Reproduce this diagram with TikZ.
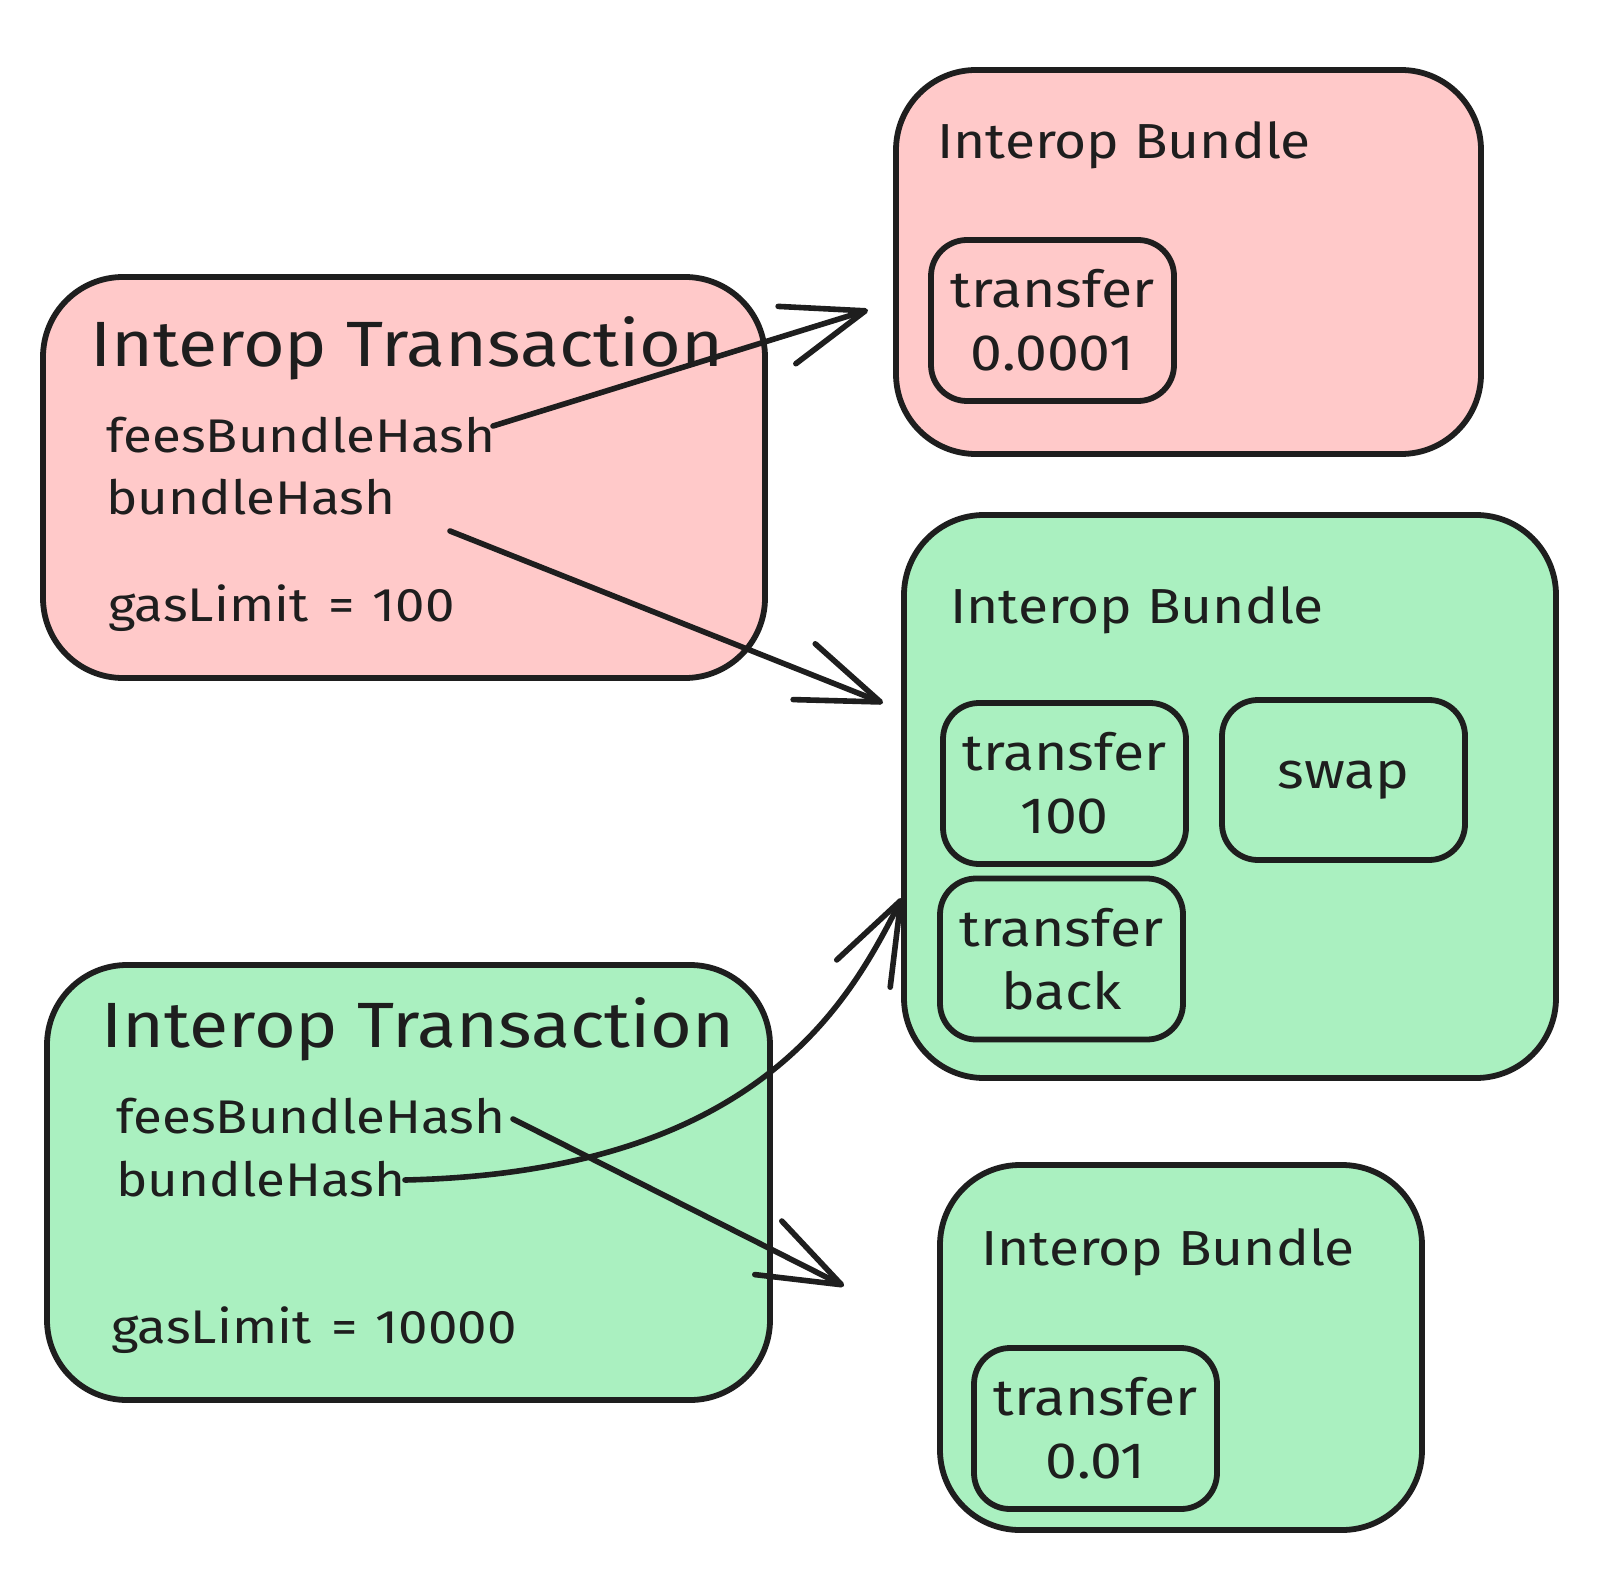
\documentclass[tikz,border=0pt]{standalone}
\usepackage{fontspec}
\setmainfont[FakeStretch=1.12]{Fira Sans}
\usetikzlibrary{arrows.meta}
\definecolor{ink}{HTML}{1E1E1E}
\definecolor{pinkfill}{HTML}{FFC9C9}
\definecolor{greenfill}{RGB}{170,240,192}
\begin{document}
\begin{tikzpicture}[x=0.5pt,y=-0.5pt,
  outerbox/.style={draw=ink, line width=2.9pt, rounded corners=40pt, inner sep=0pt},
  innerbox/.style={draw=ink, line width=2.9pt, rounded corners=18pt, inner sep=0pt,
    minimum width=121.5pt, minimum height=80.5pt, align=center, text=ink,
    font=\fontsize{25.5}{31.5}\selectfont},
  titletx/.style={anchor=base west, inner sep=0pt, text=ink, font=\fontsize{32}{36}\selectfont},
  field/.style={anchor=base west, inner sep=0pt, text=ink, font=\fontsize{23.6}{30}\selectfont},
  titleb/.style={anchor=base west, inner sep=0pt, text=ink, font=\fontsize{24.6}{30}\selectfont},
  conn/.style={draw=ink, line width=2.8pt, line cap=round, line join=round,
    -{Straight Barb[length=41pt, width=30pt, line width=2.8pt, round]}},
]
\fill[white] (0,0) rectangle (1610,1588);
\useasboundingbox (0,0) rectangle (1610,1588);

% outer boxes
\node[outerbox, fill=pinkfill, minimum width=292.5pt, minimum height=192pt] (bundleA) at (1188.5,262) {};
\node[outerbox, fill=pinkfill, minimum width=361pt, minimum height=200.5pt] (txA) at (404,477.5) {};
\node[outerbox, fill=greenfill, minimum width=326pt, minimum height=281.5pt] (bundleB) at (1230,796.5) {};
\node[outerbox, fill=greenfill, minimum width=361.5pt, minimum height=217.5pt] (txB) at (408.5,1182.5) {};
\node[outerbox, fill=greenfill, minimum width=241pt, minimum height=182.5pt] (bundleC) at (1181,1347.5) {};

% inner boxes
\node[innerbox] (trA) at (1052.5,320.5) {transfer\\0.0001};
\node[innerbox] (trB) at (1064.5,783.5) {transfer\\100};
\node[innerbox, minimum height=80pt] (swapB) at (1343.5,780) {swap};
\node[innerbox] (backB) at (1061.5,959) {transfer\\back};
\node[innerbox] (trC) at (1095.5,1428.5) {transfer\\0.01};

% titles
\node[titleb] (bundleAtitle) at (937,159) {Interop Bundle};
\node[titleb] (bundleBtitle) at (950,623) {Interop Bundle};
\node[titleb] (bundleCtitle) at (981,1265) {Interop Bundle};

\node[titletx] (txAtitle) at (90,367) {Interop Transaction};
\node[field] (txAfees) at (106,452) {feesBundleHash};
\node[field] (txAhash) at (106,515) {bundleHash};
\node[field] (txAgas) at (108,621) {gasLimit\hspace{10pt}=\hspace{9pt}100};

\node[titletx] (txBtitle) at (101,1047) {Interop Transaction};
\node[field] (txBfees) at (116,1133) {feesBundleHash};
\node[field] (txBhash) at (116,1196) {bundleHash};
\node[field] (txBgas) at (111,1343) {gasLimit\hspace{10pt}=\hspace{9pt}10000};

% connector ends
\coordinate (a1s) at (493,426);
\coordinate (a1e) at (868,310);
\coordinate (a2s) at (450,531);
\coordinate (a2e) at (883,703);
\coordinate (a3s) at (405,1180);
\coordinate (a3e) at (902,898);
\coordinate (a4s) at (513,1119);
\coordinate (a4e) at (844,1286);

\draw[conn] (a1s) -- (a1e);
\draw[conn] (a2s) -- (a2e);
\draw[conn] (a3s) .. controls (760,1172) and (850,1000) .. (a3e);
\draw[conn] (a4s) -- (a4e);
\end{tikzpicture}
\end{document}
